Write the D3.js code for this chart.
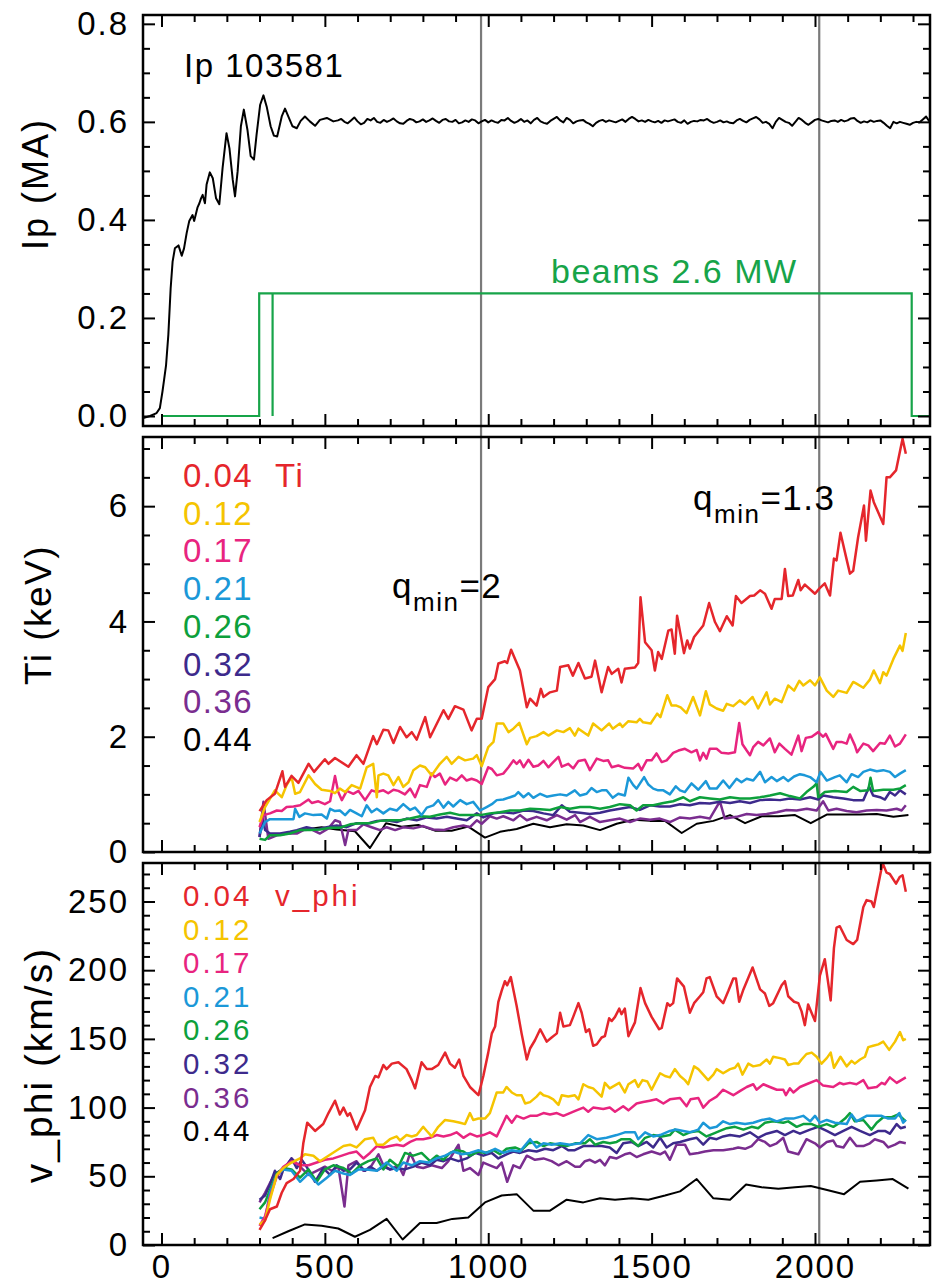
<!DOCTYPE html>
<html><head><meta charset="utf-8">
<script src="https://cdn.jsdelivr.net/npm/d3@7"></script>
<style>
html,body{margin:0;padding:0;background:#fff;}
svg{display:block;}
text{font-family:"Liberation Sans",Arial,Helvetica,sans-serif;}
</style></head>
<body>
<svg id="chart" width="934" height="1285"></svg>
<script>
// ---------------- DATA ----------------
const xTickLabels = [0, 500, 1000, 1500, 2000];
const ipTickLabels = [0.0, 0.2, 0.4, 0.6, 0.8];
const tiTickLabels = [0, 2, 4, 6];
const vTickLabels = [0, 50, 100, 150, 200, 250];
const markerTimes = [978, 2013];
const radii = ["0.04", "0.12", "0.17", "0.21", "0.26", "0.32", "0.36", "0.44"];
const colors = ["#e5262c", "#f5c400", "#e8247f", "#1b98d8", "#0da03c", "#3d2a8c", "#7a2d8f", "#000000"];

// plasma current (MA): ramp-up part [t, Ip]
const ipRamp = [[-56,-0.004],[-35,0.0],[-15,0.006],[-5,0.016],[3,0.05],[8,0.074],[14,0.104],[21,0.166],[28,0.26],[34,0.315],[41,0.342],[52,0.348],[62,0.327],[69,0.342],[77,0.373],[85,0.398],[95,0.41],[100,0.398],[110,0.425],[116,0.434],[121,0.444],[126,0.451],[133,0.434],[138,0.472],[148,0.497],[157,0.485],[167,0.444],[177,0.432],[187,0.506],[199,0.577],[208,0.546],[218,0.482],[225,0.448],[233,0.499],[243,0.591],[252,0.625],[263,0.584],[273,0.53],[283,0.523],[291,0.574],[302,0.635],[312,0.654],[322,0.631],[334,0.591],[344,0.572],[354,0.57],[368,0.611],[378,0.627],[388,0.611],[401,0.591],[414,0.587],[426,0.602],[439,0.611],[454,0.601],[470,0.592],[485,0.604],[506,0.608],[526,0.601],[540,0.603]];
// flat-top part, sampled every 10 ms from 550 ms
const ipFlatStart = 550, ipFlatStep = 10;
const ipFlat = [
0.606,0.600,0.597,0.603,0.609,0.601,0.595,0.598,0.606,0.603,
0.608,0.600,0.598,0.604,0.600,0.603,0.607,0.601,0.597,0.596,
0.602,0.606,0.604,0.599,0.601,0.605,0.600,0.603,0.607,0.602,
0.598,0.604,0.606,0.601,0.600,0.604,0.597,0.599,0.603,0.600,
0.605,0.603,0.597,0.601,0.604,0.599,0.603,0.600,0.598,0.604,
0.603,0.608,0.602,0.598,0.601,0.606,0.600,0.603,0.597,0.604,
0.608,0.601,0.598,0.596,0.602,0.606,0.610,0.603,0.599,0.608,
0.604,0.597,0.601,0.603,0.604,0.599,0.596,0.591,0.598,0.602,
0.604,0.600,0.603,0.601,0.599,0.602,0.605,0.600,0.606,0.610,
0.606,0.601,0.603,0.600,0.604,0.601,0.599,0.602,0.598,0.603,
0.601,0.603,0.605,0.600,0.598,0.603,0.596,0.600,0.602,0.601,
0.604,0.603,0.606,0.601,0.598,0.600,0.603,0.599,0.601,0.598,
0.597,0.603,0.606,0.602,0.599,0.604,0.607,0.610,0.605,0.598,
0.600,0.596,0.587,0.600,0.608,0.604,0.600,0.598,0.592,0.600,
0.608,0.604,0.598,0.594,0.599,0.604,0.606,0.603,0.601,0.599,
0.602,0.603,0.600,0.604,0.601,0.603,0.607,0.608,0.602,0.598,
0.601,0.599,0.603,0.600,0.602,0.603,0.598,0.592,0.587,0.600,
0.597,0.600,0.598,0.596,0.594,0.598,0.600,0.599,0.605,0.611,
0.601];
// neutral beam waveform (scaled)
const beamTimes = [0, 299, 299, 340, 340, 340, 2296, 2296, 2352];
const beamLevels = [0, 0, 0.25, 0.25, 0, 0.25, 0.25, 0, 0];

// Ion temperature (keV) per radius
const ti004 = [[300,0.71],[322,0.90],[347,1.01],[370,1.40],[378,1.13],[398,1.32],[419,1.20],[450,1.53],[467,1.39],[500,1.61],[511,1.53],[531,1.63],[572,1.48],[597,1.68],[618,1.53],[648,2.01],[659,1.87],[679,2.12],[694,2.11],[710,1.89],[730,2.17],[750,1.99],[766,2.08],[781,1.95],[807,2.34],[822,1.99],[863,2.46],[878,2.31],[898,2.53],[924,2.47],[949,2.11],[965,2.31],[980,2.31],[1000,2.86],[1021,3.00],[1031,3.27],[1051,3.31],[1058,3.28],[1070,3.51],[1097,3.15],[1118,2.51],[1128,2.66],[1148,2.54],[1161,2.83],[1169,2.69],[1189,2.77],[1210,2.80],[1220,3.21],[1245,3.24],[1259,3.06],[1276,3.28],[1296,3.01],[1316,3.04],[1327,3.32],[1347,2.77],[1367,3.21],[1378,3.09],[1398,3.18],[1408,2.94],[1418,3.18],[1449,3.20],[1459,3.28],[1466,4.42],[1480,3.64],[1500,3.50],[1510,3.15],[1520,3.47],[1531,3.35],[1551,3.84],[1561,3.86],[1571,3.44],[1578,4.10],[1599,3.45],[1609,3.67],[1617,3.53],[1630,3.73],[1658,3.93],[1676,4.32],[1694,3.99],[1709,3.83],[1730,4.09],[1748,3.93],[1758,4.44],[1775,4.32],[1801,4.44],[1814,4.45],[1832,4.54],[1847,4.48],[1867,4.22],[1877,4.39],[1898,4.39],[1908,4.91],[1918,4.44],[1932,4.45],[1949,4.72],[1956,4.54],[1969,4.64],[2000,4.48],[2013,4.57],[2030,4.66],[2046,4.45],[2058,5.09],[2066,5.06],[2078,5.54],[2095,5.12],[2107,4.83],[2117,4.88],[2132,5.46],[2150,6.01],[2156,5.40],[2170,6.27],[2180,6.07],[2209,5.69],[2219,6.50],[2229,6.50],[2248,6.62],[2268,7.17],[2278,6.91]];
const ti012 = [[300,0.52],[317,0.78],[347,1.07],[368,0.95],[383,1.16],[398,1.30],[409,1.01],[424,1.04],[450,1.33],[470,1.18],[490,1.08],[516,1.06],[531,1.02],[546,1.10],[562,1.04],[582,1.16],[608,1.10],[628,1.47],[648,1.53],[659,0.95],[664,1.33],[679,1.36],[694,1.33],[710,1.16],[725,1.30],[740,1.13],[756,1.21],[771,1.42],[791,1.50],[807,1.47],[827,1.33],[852,1.53],[873,1.65],[888,1.53],[909,1.65],[929,1.59],[954,1.62],[965,1.68],[980,1.49],[1000,1.82],[1016,1.91],[1026,2.23],[1046,2.23],[1062,2.08],[1077,2.14],[1095,2.24],[1118,1.87],[1128,1.98],[1148,2.01],[1169,2.08],[1184,2.02],[1210,2.11],[1230,2.08],[1250,2.15],[1265,2.02],[1276,2.14],[1306,2.02],[1321,2.23],[1347,2.11],[1370,2.23],[1381,2.14],[1403,2.23],[1411,2.17],[1429,2.27],[1454,2.25],[1464,2.31],[1474,2.25],[1497,2.23],[1517,2.40],[1527,2.34],[1548,2.72],[1561,2.54],[1576,2.54],[1589,2.51],[1607,2.41],[1627,2.69],[1648,2.37],[1666,2.79],[1678,2.56],[1699,2.49],[1719,2.45],[1730,2.57],[1750,2.53],[1770,2.63],[1786,2.56],[1809,2.69],[1826,2.49],[1852,2.77],[1862,2.56],[1877,2.66],[1898,2.60],[1918,2.89],[1936,2.80],[1952,2.97],[1964,2.89],[1985,2.98],[2000,2.89],[2015,3.03],[2036,2.80],[2056,2.69],[2071,2.80],[2097,2.76],[2117,2.95],[2127,2.92],[2148,2.85],[2168,2.99],[2180,3.15],[2199,2.93],[2209,3.12],[2219,3.06],[2240,3.35],[2260,3.58],[2268,3.49],[2278,3.80]];
const ti017 = [[300,0.43],[312,0.64],[332,0.67],[353,0.72],[368,0.71],[383,0.78],[404,0.79],[424,0.81],[450,0.91],[460,0.85],[480,0.88],[500,0.83],[516,0.88],[531,1.32],[541,1.04],[552,0.90],[567,1.06],[587,1.01],[603,1.06],[623,0.90],[643,1.07],[659,1.04],[679,1.07],[694,1.02],[710,1.08],[725,1.06],[745,1.00],[761,1.10],[776,0.95],[791,1.16],[812,1.13],[827,1.36],[837,1.30],[852,1.36],[868,1.17],[883,1.29],[903,1.24],[919,1.33],[934,1.24],[949,1.27],[965,1.24],[980,1.18],[1000,1.47],[1011,1.44],[1026,1.33],[1046,1.36],[1062,1.47],[1077,1.59],[1087,1.53],[1097,1.59],[1108,1.47],[1123,1.60],[1138,1.48],[1153,1.50],[1169,1.58],[1184,1.47],[1199,1.56],[1215,1.65],[1225,1.48],[1245,1.53],[1260,1.45],[1276,1.58],[1296,1.60],[1311,1.42],[1332,1.62],[1352,1.58],[1367,1.59],[1378,1.47],[1398,1.50],[1418,1.46],[1444,1.45],[1459,1.53],[1469,1.42],[1485,1.59],[1500,1.59],[1515,1.71],[1531,1.56],[1546,1.59],[1566,1.72],[1582,1.76],[1602,1.79],[1622,1.73],[1638,1.77],[1648,1.59],[1658,1.72],[1668,1.62],[1678,1.79],[1699,1.79],[1714,1.72],[1735,1.71],[1755,1.73],[1768,2.24],[1778,1.87],[1791,1.76],[1801,1.68],[1811,1.82],[1826,1.91],[1842,1.85],[1862,1.97],[1877,1.73],[1891,1.88],[1908,1.79],[1928,1.69],[1949,2.02],[1959,1.75],[1972,1.98],[1990,2.00],[2010,2.08],[2025,2.00],[2033,2.05],[2056,1.79],[2066,1.91],[2081,1.91],[2097,1.88],[2107,2.04],[2122,1.85],[2129,1.73],[2148,1.88],[2163,1.85],[2178,1.75],[2199,1.89],[2214,1.88],[2229,2.02],[2245,1.83],[2260,1.88],[2278,2.04]];
const ti021 = [[300,0.32],[317,0.52],[332,0.57],[363,0.57],[404,0.57],[409,0.75],[422,0.61],[439,0.67],[465,0.64],[490,0.65],[506,0.58],[516,0.75],[531,0.71],[546,0.72],[562,0.64],[577,0.73],[597,0.67],[613,0.62],[628,0.81],[643,0.69],[659,0.75],[679,0.67],[699,0.75],[720,0.72],[740,0.83],[761,0.73],[776,0.77],[796,0.64],[812,0.77],[832,0.81],[847,0.90],[863,0.77],[878,0.87],[893,0.79],[914,0.90],[934,0.83],[954,0.87],[975,0.72],[995,0.78],[1011,0.83],[1026,0.90],[1046,0.91],[1067,0.95],[1082,0.98],[1092,1.04],[1108,0.95],[1123,1.02],[1138,0.94],[1159,1.01],[1179,0.96],[1199,0.98],[1220,1.00],[1240,0.98],[1265,1.07],[1281,0.98],[1301,1.01],[1316,1.11],[1332,1.04],[1347,1.07],[1362,1.07],[1381,0.94],[1398,1.01],[1418,0.98],[1429,1.29],[1444,1.16],[1454,1.10],[1477,1.30],[1490,1.17],[1505,1.10],[1520,1.07],[1536,1.07],[1556,1.00],[1574,1.14],[1587,1.07],[1602,1.04],[1622,1.19],[1643,1.08],[1666,1.23],[1678,1.10],[1699,1.10],[1719,1.24],[1738,1.11],[1760,1.27],[1775,1.21],[1791,1.27],[1811,1.24],[1832,1.39],[1847,1.21],[1867,1.30],[1883,1.23],[1903,1.30],[1918,1.23],[1936,1.31],[1954,1.35],[1969,1.33],[1985,1.30],[2005,1.21],[2017,1.39],[2036,1.24],[2061,1.30],[2076,1.33],[2097,1.21],[2112,1.35],[2132,1.30],[2148,1.39],[2168,1.43],[2189,1.40],[2209,1.42],[2229,1.39],[2245,1.30],[2260,1.36],[2278,1.42]];
const ti026 = [[300,0.23],[317,0.21],[332,0.29],[363,0.29],[393,0.32],[424,0.38],[455,0.38],[485,0.39],[516,0.42],[546,0.42],[577,0.48],[608,0.50],[638,0.50],[669,0.54],[699,0.55],[730,0.55],[761,0.58],[791,0.62],[822,0.61],[852,0.65],[883,0.68],[914,0.64],[944,0.64],[975,0.64],[1005,0.67],[1036,0.69],[1067,0.72],[1097,0.72],[1128,0.75],[1159,0.74],[1189,0.73],[1220,0.78],[1250,0.75],[1281,0.78],[1311,0.78],[1342,0.75],[1372,0.78],[1403,0.83],[1434,0.81],[1454,0.72],[1474,0.81],[1505,0.81],[1536,0.85],[1566,0.88],[1597,0.95],[1617,0.88],[1648,0.95],[1678,0.93],[1709,0.91],[1740,0.95],[1770,0.93],[1801,0.93],[1832,0.95],[1862,0.98],[1893,1.02],[1923,0.97],[1954,0.93],[1974,1.04],[1995,1.13],[2005,1.19],[2010,0.95],[2030,1.04],[2061,1.06],[2097,1.04],[2117,1.13],[2138,1.06],[2163,1.07],[2170,1.29],[2178,1.06],[2209,1.08],[2240,1.08],[2260,1.10],[2278,1.16]];
const ti032 = [[300,0.26],[310,0.60],[317,0.38],[332,0.32],[363,0.32],[393,0.35],[414,0.38],[444,0.43],[475,0.39],[506,0.43],[536,0.46],[567,0.43],[597,0.50],[628,0.49],[659,0.54],[689,0.55],[720,0.52],[750,0.58],[781,0.55],[812,0.60],[842,0.58],[873,0.61],[903,0.58],[934,0.55],[965,0.67],[985,0.60],[1016,0.67],[1046,0.69],[1077,0.67],[1108,0.72],[1138,0.71],[1169,0.67],[1199,0.64],[1225,0.81],[1250,0.70],[1281,0.68],[1311,0.66],[1342,0.68],[1372,0.72],[1403,0.75],[1434,0.78],[1464,0.73],[1495,0.81],[1525,0.79],[1556,0.79],[1587,0.83],[1617,0.81],[1648,0.85],[1678,0.84],[1709,0.87],[1740,0.85],[1770,0.88],[1801,0.85],[1832,0.90],[1862,0.91],[1893,0.90],[1923,0.93],[1954,0.91],[1985,0.95],[2010,0.91],[2025,0.98],[2056,0.95],[2087,0.93],[2117,0.90],[2148,0.90],[2166,1.13],[2178,0.98],[2199,0.95],[2214,0.91],[2229,1.04],[2245,0.98],[2260,1.07],[2278,1.00]];
const ti036 = [[300,0.26],[312,0.87],[327,0.23],[353,0.29],[383,0.32],[414,0.32],[434,0.38],[460,0.39],[485,0.32],[511,0.41],[531,0.55],[546,0.52],[562,0.12],[572,0.38],[597,0.38],[618,0.48],[643,0.43],[669,0.38],[689,0.43],[715,0.38],[740,0.43],[771,0.41],[801,0.45],[832,0.39],[863,0.38],[893,0.43],[924,0.46],[944,0.43],[965,0.55],[980,0.49],[1005,0.62],[1026,0.58],[1046,0.62],[1077,0.55],[1097,0.64],[1118,0.55],[1148,0.61],[1179,0.55],[1210,0.64],[1240,0.56],[1266,0.64],[1281,0.52],[1311,0.61],[1342,0.52],[1372,0.55],[1403,0.58],[1434,0.52],[1464,0.58],[1495,0.56],[1525,0.58],[1556,0.52],[1587,0.60],[1617,0.58],[1648,0.61],[1678,0.58],[1709,0.88],[1724,0.58],[1760,0.61],[1791,0.66],[1821,0.64],[1852,0.66],[1883,0.69],[1913,0.73],[1944,0.72],[1975,0.75],[2005,0.72],[2025,0.88],[2041,0.72],[2066,0.75],[2097,0.71],[2127,0.69],[2158,0.72],[2189,0.73],[2219,0.72],[2250,0.75],[2265,0.72],[2278,0.81]];
const ti044 = [[326,0.29],[393,0.33],[450,0.40],[490,0.43],[536,0.39],[592,0.36],[638,0.07],[687,0.50],[735,0.44],[786,0.47],[837,0.37],[888,0.37],[939,0.44],[990,0.25],[1036,0.35],[1087,0.40],[1138,0.49],[1189,0.43],[1240,0.48],[1291,0.46],[1342,0.38],[1393,0.49],[1444,0.56],[1495,0.54],[1541,0.54],[1592,0.33],[1638,0.49],[1689,0.54],[1740,0.64],[1786,0.50],[1837,0.62],[1888,0.62],[1939,0.64],[1987,0.50],[2036,0.65],[2087,0.65],[2138,0.65],[2189,0.66],[2240,0.61],[2286,0.64]];

// Toroidal rotation (km/s) per radius
const v004 = [[300,11],[317,18],[332,26],[353,28],[368,38],[383,45],[404,48],[424,54],[434,74],[446,89],[470,83],[495,88],[511,96],[531,105],[546,95],[557,100],[569,94],[577,96],[597,84],[623,98],[638,115],[654,123],[664,122],[679,131],[689,128],[705,132],[725,133],[750,128],[766,120],[776,114],[796,133],[812,128],[827,128],[847,131],[868,140],[883,132],[898,129],[911,135],[924,123],[944,115],[970,109],[985,123],[1000,140],[1011,154],[1021,159],[1031,177],[1041,185],[1051,192],[1058,189],[1069,195],[1087,174],[1102,154],[1118,135],[1128,143],[1143,149],[1159,157],[1179,148],[1194,151],[1210,154],[1220,169],[1230,159],[1250,160],[1260,166],[1276,176],[1286,169],[1299,155],[1309,157],[1321,145],[1332,146],[1347,151],[1357,152],[1370,165],[1378,163],[1388,166],[1401,172],[1408,168],[1418,172],[1429,152],[1449,162],[1466,187],[1480,176],[1500,166],[1523,157],[1531,158],[1548,176],[1556,174],[1566,176],[1578,194],[1599,188],[1617,169],[1630,176],[1648,181],[1658,184],[1668,194],[1678,195],[1699,181],[1719,176],[1735,185],[1750,194],[1758,194],[1768,177],[1781,186],[1809,202],[1832,186],[1847,183],[1860,174],[1872,176],[1898,189],[1908,192],[1918,181],[1936,177],[1949,176],[1959,170],[1969,160],[1979,175],[2000,163],[2015,196],[2030,208],[2048,178],[2058,216],[2066,231],[2076,232],[2097,222],[2117,219],[2129,222],[2148,246],[2158,251],[2173,250],[2180,246],[2207,278],[2219,271],[2229,270],[2248,263],[2260,268],[2268,269],[2278,257]];
const v012 = [[300,15],[317,18],[332,33],[353,51],[373,56],[398,60],[424,63],[439,66],[465,65],[485,61],[511,65],[531,68],[557,72],[577,73],[597,71],[623,77],[648,78],[659,73],[679,73],[699,77],[720,79],[730,76],[750,80],[766,79],[781,80],[801,86],[812,83],[827,79],[847,86],[868,91],[893,90],[914,89],[929,88],[944,96],[954,91],[970,92],[990,92],[1005,96],[1026,111],[1046,111],[1056,115],[1072,111],[1087,109],[1102,109],[1113,103],[1128,104],[1148,108],[1159,111],[1169,109],[1184,108],[1199,106],[1215,102],[1225,109],[1245,108],[1265,109],[1276,106],[1291,117],[1306,115],[1321,114],[1347,108],[1357,118],[1372,114],[1401,118],[1418,111],[1429,117],[1449,120],[1459,115],[1472,120],[1487,119],[1500,113],[1515,120],[1526,125],[1541,123],[1556,122],[1571,128],[1587,123],[1602,120],[1612,117],[1630,130],[1643,128],[1658,124],[1673,120],[1689,124],[1699,128],[1719,125],[1740,128],[1755,129],[1765,132],[1778,124],[1796,132],[1811,130],[1832,131],[1852,135],[1862,132],[1872,137],[1893,136],[1908,135],[1918,131],[1934,132],[1949,132],[1959,135],[1974,139],[1990,140],[2005,137],[2020,132],[2036,136],[2048,140],[2058,129],[2078,137],[2097,130],[2112,134],[2122,132],[2138,135],[2153,137],[2163,144],[2178,145],[2194,146],[2209,148],[2227,142],[2245,148],[2260,155],[2270,149],[2278,150]];
const v017 = [[300,14],[317,21],[332,35],[353,50],[373,57],[398,61],[424,58],[450,58],[475,60],[500,62],[526,63],[552,65],[577,67],[597,68],[618,63],[638,67],[659,72],[679,71],[699,72],[720,73],[740,72],[761,75],[781,77],[801,77],[822,78],[842,80],[863,79],[883,80],[903,82],[924,78],[944,81],[965,79],[985,80],[1005,82],[1026,79],[1046,89],[1056,94],[1072,89],[1087,94],[1108,92],[1128,94],[1148,94],[1169,96],[1189,95],[1210,96],[1230,94],[1250,96],[1270,98],[1291,100],[1306,97],[1321,100],[1352,99],[1372,100],[1388,97],[1413,101],[1429,98],[1454,103],[1474,104],[1495,105],[1515,106],[1536,103],[1556,106],[1587,107],[1607,101],[1619,106],[1643,107],[1658,100],[1678,105],[1699,108],[1719,113],[1750,109],[1770,112],[1791,115],[1811,117],[1821,113],[1842,117],[1862,115],[1883,113],[1903,113],[1911,109],[1923,114],[1934,111],[1954,115],[1974,117],[2005,120],[2025,116],[2056,115],[2076,118],[2087,117],[2107,118],[2127,117],[2148,120],[2163,114],[2189,115],[2204,118],[2214,117],[2229,122],[2250,118],[2278,122]];
const v021 = [[300,20],[317,19],[332,38],[353,51],[373,55],[398,54],[424,46],[450,52],[480,44],[506,49],[531,54],[557,52],[577,51],[603,55],[628,55],[659,54],[689,60],[720,54],[740,60],[766,58],[791,61],[817,60],[842,63],[868,65],[893,68],[919,66],[944,67],[970,69],[995,67],[1021,70],[1046,67],[1072,69],[1097,68],[1128,77],[1148,71],[1169,74],[1194,73],[1220,74],[1250,73],[1281,74],[1306,80],[1332,77],[1362,78],[1393,80],[1418,82],[1449,82],[1459,77],[1480,82],[1505,79],[1526,80],[1556,83],[1574,84],[1597,83],[1617,82],[1643,84],[1658,89],[1678,85],[1699,86],[1719,90],[1740,88],[1760,89],[1786,88],[1811,89],[1837,91],[1862,92],[1883,90],[1908,92],[1934,92],[1964,94],[1985,90],[2000,94],[2015,89],[2036,91],[2061,89],[2097,88],[2112,95],[2127,90],[2158,94],[2178,94],[2204,94],[2224,92],[2245,92],[2258,96],[2270,89],[2278,91]];
const v026 = [[300,26],[317,31],[332,40],[353,52],[373,56],[398,55],[424,49],[450,55],[475,46],[500,55],[526,58],[557,56],[582,52],[608,58],[633,61],[659,63],[679,55],[699,62],[725,57],[745,67],[771,65],[796,67],[822,61],[842,65],[863,62],[883,67],[903,69],[924,68],[944,65],[970,68],[990,67],[1016,69],[1036,66],[1056,70],[1082,71],[1102,69],[1123,74],[1148,75],[1169,72],[1189,74],[1215,73],[1240,72],[1266,74],[1296,74],[1311,77],[1327,73],[1352,75],[1372,74],[1393,75],[1408,77],[1434,77],[1459,72],[1480,78],[1505,80],[1531,79],[1556,80],[1571,84],[1597,80],[1617,82],[1643,83],[1668,79],[1689,81],[1709,83],[1730,85],[1755,86],[1781,84],[1806,86],[1826,85],[1847,89],[1872,90],[1903,89],[1918,90],[1944,86],[1964,88],[1990,88],[2010,86],[2036,88],[2056,86],[2076,89],[2092,92],[2107,96],[2122,90],[2148,91],[2173,84],[2189,89],[2209,93],[2235,93],[2255,95],[2278,90]];
const v032 = [[300,33],[317,36],[332,44],[347,54],[363,48],[373,55],[398,63],[414,56],[429,62],[444,57],[470,46],[495,56],[516,51],[536,58],[557,54],[577,55],[597,60],[623,54],[638,57],[659,54],[679,57],[699,55],[720,56],[745,55],[771,57],[796,60],[822,58],[842,62],[863,61],[883,63],[909,61],[934,63],[960,67],[985,65],[1011,67],[1031,63],[1056,66],[1077,68],[1097,67],[1123,69],[1148,68],[1174,70],[1199,69],[1225,72],[1245,69],[1265,69],[1291,72],[1316,72],[1347,72],[1372,71],[1393,67],[1413,74],[1439,75],[1459,72],[1485,75],[1505,71],[1526,78],[1546,71],[1566,74],[1587,75],[1617,77],[1638,78],[1658,73],[1678,78],[1699,77],[1719,79],[1740,80],[1770,79],[1801,82],[1826,78],[1852,81],[1883,83],[1908,80],[1934,83],[1954,81],[1985,84],[2010,86],[2036,83],[2061,80],[2087,83],[2112,86],[2138,83],[2168,80],[2194,83],[2214,83],[2229,81],[2250,88],[2262,85],[2278,86]];
const v036 = [[300,31],[317,38],[332,45],[347,52],[363,54],[378,56],[398,63],[424,57],[450,51],[475,54],[500,57],[521,54],[541,57],[560,28],[572,58],[597,61],[618,54],[638,56],[664,66],[679,58],[699,55],[725,58],[740,51],[761,67],[781,57],[801,56],[827,58],[858,56],[878,61],[909,73],[924,54],[944,56],[970,51],[985,60],[1005,58],[1026,56],[1041,60],[1058,46],[1077,58],[1097,56],[1118,65],[1143,62],[1169,63],[1194,61],[1215,58],[1240,61],[1266,57],[1281,57],[1296,61],[1311,62],[1327,60],[1342,62],[1357,58],[1372,64],[1393,63],[1418,66],[1434,67],[1454,64],[1474,66],[1500,68],[1526,66],[1541,68],[1556,62],[1576,73],[1602,73],[1617,66],[1643,67],[1663,68],[1689,69],[1719,69],[1750,70],[1765,71],[1786,70],[1806,72],[1826,77],[1847,75],[1862,72],[1883,74],[1903,78],[1918,68],[1949,66],[1974,77],[2000,74],[2015,71],[2036,75],[2056,76],[2066,72],[2087,71],[2107,78],[2127,72],[2148,72],[2168,74],[2183,77],[2209,75],[2224,71],[2245,73],[2260,75],[2278,74]];
const v044 = [[340,5],[388,10],[439,15],[490,14],[541,12],[592,6],[638,11],[689,19],[738,4],[791,16],[842,16],[890,19],[939,20],[990,31],[1041,36],[1087,37],[1138,25],[1189,25],[1240,33],[1291,31],[1342,34],[1388,33],[1439,34],[1490,33],[1541,36],[1587,39],[1638,48],[1689,34],[1740,33],[1789,44],[1837,42],[1888,41],[1939,42],[1987,43],[2037,40],[2089,37],[2138,46],[2189,47],[2238,48],[2286,41]];

const tiSeries = [ti004, ti012, ti017, ti021, ti026, ti032, ti036, ti044];
const vSeries = [v004, v012, v017, v021, v026, v032, v036, v044];

// ---------------- LAYOUT ----------------
const svg = d3.select("#chart");
const L = 143, R = 930;
const P1 = {top: 15, bottom: 426}, P2 = {top: 437, bottom: 852}, P3 = {top: 863, bottom: 1245};
const FONT = '"Liberation Sans", Arial, Helvetica, sans-serif';

const x = d3.scaleLinear().domain([-56.6, 2352]).range([L, R]);
const yIp = d3.scaleLinear().domain([-0.0204, 0.818]).range([P1.bottom, P1.top]);
const yTi = d3.scaleLinear().domain([0, 7.2]).range([P2.bottom, P2.top]);
const yV = d3.scaleLinear().domain([0, 278]).range([P3.bottom, P3.top]);

const defs = svg.append("defs");
[["c1", P1], ["c2", P2], ["c3", P3]].forEach(([id, p]) => {
  defs.append("clipPath").attr("id", id).append("rect")
    .attr("x", L).attr("y", p.top).attr("width", R - L).attr("height", p.bottom - p.top);
});

// vertical marker lines (through all panels)
svg.selectAll("line.marker").data(markerTimes).enter().append("line")
  .attr("class", "marker")
  .attr("x1", d => x(d)).attr("x2", d => x(d))
  .attr("y1", P1.top).attr("y2", P3.bottom)
  .attr("stroke", "#7a7a7a").attr("stroke-width", 2.2);

// ---- Panel 1: Ip and beams
const g1 = svg.append("g").attr("clip-path", "url(#c1)");
const ipData = ipRamp.concat(ipFlat.map((v, i) => [ipFlatStart + i * ipFlatStep, v]));
g1.append("path").datum(ipData)
  .attr("fill", "none").attr("stroke", "#000").attr("stroke-width", 2)
  .attr("stroke-linejoin", "round")
  .attr("d", d3.line().x(d => x(d[0])).y(d => yIp(d[1])));
g1.append("path").datum(beamTimes.map((t, i) => [t, beamLevels[i]]))
  .attr("fill", "none").attr("stroke", "#17a449").attr("stroke-width", 2.2)
  .attr("d", d3.line().x(d => x(d[0])).y(d => yIp(d[1])));

// ---- Panel 2: Ti
const g2 = svg.append("g").attr("clip-path", "url(#c2)");
const tiLine = d3.line().x(d => x(d[0])).y(d => yTi(d[1]));
for (let i = tiSeries.length - 1; i >= 0; i--) {
  g2.append("path").datum(tiSeries[i])
    .attr("fill", "none").attr("stroke", colors[i])
    .attr("stroke-width", i === 7 ? 2 : 2.5).attr("stroke-linejoin", "round")
    .attr("d", tiLine);
}

// ---- Panel 3: v_phi
const g3 = svg.append("g").attr("clip-path", "url(#c3)");
const vLine = d3.line().x(d => x(d[0])).y(d => yV(d[1]));
for (let i = vSeries.length - 1; i >= 0; i--) {
  g3.append("path").datum(vSeries[i])
    .attr("fill", "none").attr("stroke", colors[i])
    .attr("stroke-width", i === 7 ? 2 : 2.5).attr("stroke-linejoin", "round")
    .attr("d", vLine);
}

// ---------------- AXES ----------------
function styleAxis(g) {
  g.select(".domain").remove();
  g.selectAll(".tick line").attr("stroke", "#000").attr("stroke-width", 2);
  g.selectAll("text").attr("font-family", FONT).attr("font-size", 33)
    .attr("fill", "#000").attr("letter-spacing", "2px");
}
const xMinor = d3.range(0, 2400, 100).filter(v => v % 500 !== 0);
function frameAxes(p, y, majorVals, minorVals, fmt, showBottomLabels) {
  const big = 12, small = 7;
  const la = svg.append("g").attr("transform", `translate(${L},0)`)
    .call(d3.axisLeft(y).tickValues(majorVals).tickSize(-big).tickPadding(14).tickFormat(fmt));
  styleAxis(la);
  const lm = svg.append("g").attr("transform", `translate(${L},0)`)
    .call(d3.axisLeft(y).tickValues(minorVals).tickSize(-small).tickFormat(""));
  styleAxis(lm);
  const ra = svg.append("g").attr("transform", `translate(${R},0)`)
    .call(d3.axisRight(y).tickValues(majorVals).tickSize(-big).tickFormat(""));
  styleAxis(ra);
  const rm = svg.append("g").attr("transform", `translate(${R},0)`)
    .call(d3.axisRight(y).tickValues(minorVals).tickSize(-small).tickFormat(""));
  styleAxis(rm);
  const ta = svg.append("g").attr("transform", `translate(0,${p.top})`)
    .call(d3.axisTop(x).tickValues(xTickLabels).tickSize(-big).tickFormat(""));
  styleAxis(ta);
  const tm = svg.append("g").attr("transform", `translate(0,${p.top})`)
    .call(d3.axisTop(x).tickValues(xMinor).tickSize(-small).tickFormat(""));
  styleAxis(tm);
  const ba = svg.append("g").attr("transform", `translate(0,${p.bottom})`)
    .call(d3.axisBottom(x).tickValues(xTickLabels).tickSize(-big).tickPadding(10)
      .tickFormat(showBottomLabels ? d3.format("d") : ""));
  styleAxis(ba);
  const bm = svg.append("g").attr("transform", `translate(0,${p.bottom})`)
    .call(d3.axisBottom(x).tickValues(xMinor).tickSize(-small).tickFormat(""));
  styleAxis(bm);
  svg.append("rect").attr("x", L).attr("y", p.top).attr("width", R - L).attr("height", p.bottom - p.top)
    .attr("fill", "none").attr("stroke", "#000").attr("stroke-width", 2.5);
}
const ipMinor = [0.05, 0.1, 0.15, 0.25, 0.3, 0.35, 0.45, 0.5, 0.55, 0.65, 0.7, 0.75];
const tiMinor = [0.5, 1, 1.5, 2.5, 3, 3.5, 4.5, 5, 5.5, 6.5, 7];
const vMinor = d3.range(10, 278, 10).filter(v => v % 50 !== 0);
frameAxes(P1, yIp, ipTickLabels, ipMinor, d3.format(".1f"), false);
frameAxes(P2, yTi, tiTickLabels, tiMinor, d3.format("d"), false);
frameAxes(P3, yV, vTickLabels, vMinor, d3.format("d"), true);

// ---------------- TEXT ----------------
function yTitle(txt, cx, cy, fs, ls) {
  svg.append("text").attr("transform", `translate(${cx},${cy}) rotate(-90)`)
    .attr("text-anchor", "middle").attr("font-family", FONT).attr("font-size", fs)
    .attr("letter-spacing", ls + "px").attr("fill", "#000").text(txt);
}
yTitle("Ip (MA)", 48, 184, 36, 2);
yTitle("Ti (keV)", 51, 615, 37, 1.5);
yTitle("v_phi (km/s)", 52, 1065, 39, 2);

svg.append("text").attr("x", 184).attr("y", 77).attr("font-family", FONT).attr("font-size", 33)
  .attr("letter-spacing", "1.5px").text("Ip 103581");
svg.append("text").attr("x", 551).attr("y", 283).attr("font-family", FONT).attr("font-size", 34)
  .attr("letter-spacing", "1.5px").attr("fill", "#17a449").text("beams 2.6 MW");

// legends: one coloured line per radius
function legend(x0, y0, step, fs, ls, label) {
  radii.forEach((r, i) => {
    svg.append("text").attr("x", x0).attr("y", y0 + i * step).attr("font-family", FONT)
      .attr("font-size", fs).attr("letter-spacing", ls + "px").attr("fill", colors[i]).text(r);
  });
  svg.append("text").attr("x", 275).attr("y", y0).attr("font-family", FONT).attr("font-size", fs)
    .attr("letter-spacing", ls + "px").attr("fill", colors[0]).text(label);
}
legend(183, 487, 37.7, 33, 1.5, "Ti");
legend(183, 906, 33.6, 29.5, 3, "v_phi");

// q_min annotations
function qmin(xp, yp, val) {
  const t = svg.append("text").attr("x", xp).attr("y", yp).attr("font-family", FONT)
    .attr("font-size", 35).attr("letter-spacing", "1.5px").attr("fill", "#000");
  t.append("tspan").text("q");
  t.append("tspan").attr("dy", 13).attr("font-size", 26).text("min");
  t.append("tspan").attr("dy", -13).attr("font-size", 35).text("=" + val);
}
qmin(392, 598, "2");
qmin(693, 510, "1.3");
</script>
</body></html>
